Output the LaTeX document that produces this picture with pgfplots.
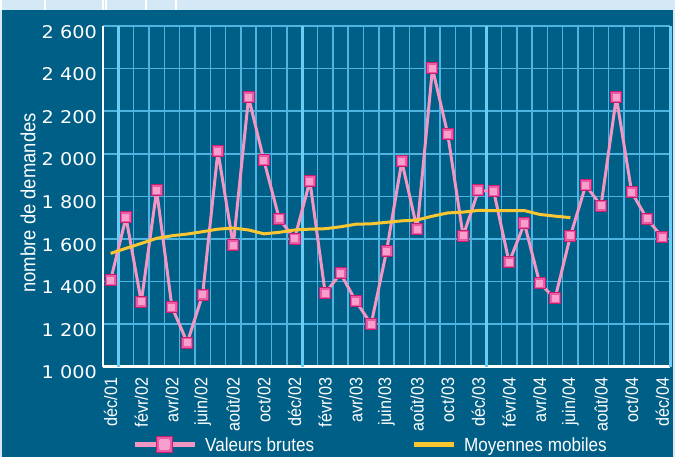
\documentclass[border=0pt]{standalone}
\usepackage{pgfplots}
\pgfplotsset{compat=1.18}
\usepackage{fontspec}
\setmainfont{Liberation Sans}
\newfontfamily\tickfont{DejaVu Sans}[FakeStretch=1.1]
\newfontfamily\condfont{Liberation Sans}[FakeStretch=0.9]
\definecolor{bgdark}{RGB}{0,95,135}
\definecolor{gridthin}{RGB}{80,180,225}
\definecolor{gridthick}{RGB}{105,205,245}
\definecolor{toplight}{RGB}{212,232,246}
\definecolor{pinkline}{RGB}{242,150,195}
\definecolor{markfill}{RGB}{236,90,165}
\definecolor{markdraw}{RGB}{200,30,110}
\definecolor{markinner}{RGB}{247,160,205}
\definecolor{yell}{RGB}{250,198,50}
\pgfplotstableread{
x y
1 1407
2 1701
3 1304
4 1828
5 1280
6 1113
7 1338
8 2011
9 1570
10 2265
11 1969
12 1695
13 1600
14 1872
15 1345
16 1438
17 1308
18 1200
19 1542
20 1964
21 1646
22 2401
23 2091
24 1614
25 1828
26 1823
27 1490
28 1673
29 1391
30 1321
31 1614
32 1852
33 1756
34 2265
35 1819
36 1695
37 1607
}\raw
\pgfplotstableread{
x y
1 1532
2 1556
3 1579
4 1603
5 1615
6 1623
7 1634
8 1646
9 1651
10 1642
11 1624
12 1631
13 1642
14 1646
15 1648
16 1657
17 1669
18 1671
19 1678
20 1685
21 1689
22 1707
23 1722
24 1726
25 1734
26 1733
27 1733
28 1733
29 1715
30 1707
31 1700
}\moy
\begin{document}
\begin{tikzpicture}[x=1pt,y=1pt]
\path[use as bounding box] (0,0) rectangle (675,457);
\fill[bgdark] (0,0) rectangle (675,457);
\fill[toplight] (0,447) rectangle (675,457);
\fill[toplight] (0,0) rectangle (2,457);
\fill[toplight] (673,0) rectangle (675,457);
\foreach \sx in {1,45,103,106,146,176} {\draw[white, line width=1.5pt] (\sx,447) -- (\sx,457);}
\begin{axis}[
  at={(103pt,90.3pt)}, anchor=south west, scale only axis,
  width=567pt, height=340.7pt,
  xmin=0.5, xmax=37.5, ymin=1000, ymax=2600,
  axis x line*=bottom, axis y line*=left,
  axis line style={white, line width=2.5pt, -},
  major tick length=0pt, minor tick length=0pt,
  xtick={1,3,...,37},
  xticklabels={déc/01,févr/02,avr/02,juin/02,août/02,oct/02,déc/02,févr/03,avr/03,juin/03,août/03,oct/03,déc/03,févr/04,avr/04,juin/04,août/04,oct/04,déc/04},
  minor xtick={1.5,2.5,...,36.5},
  xminorgrids=true,
  minor grid style={gridthin, line width=1.5pt},
  ytick={1000,1200,...,2600},
  yticklabels={1 000,1 200,1 400,1 600,1 800,2 000,2 200,2 400,2 600},
  ymajorgrids=true,
  major grid style={gridthin, line width=1.5pt},
  extra x ticks={1.5,13.5,25.5,37.5},
  extra x tick labels={},
  extra x tick style={grid=major, major grid style={gridthick, line width=3pt}},
  xticklabel style={yshift=-11pt, rotate=90, anchor=east, inner sep=0pt, text=white, font=\condfont\fontsize{18}{20}\selectfont},
  yticklabel style={anchor=north east, inner sep=0pt, xshift=-6pt, yshift=1pt, text=white, font=\tickfont\fontsize{17.5}{20}\selectfont},
  ylabel={nombre de demandes},
  ylabel style={at={(axis description cs:-0.132,0.481)}, anchor=center, text=white, font=\condfont\fontsize{20.5}{22}\selectfont},
  legend style={at={(axis description cs:0.0511,-0.2298)}, anchor=west, draw=none, fill=none, inner sep=0pt,
    font=\condfont\fontsize{19}{22}\selectfont, text=white,
    /tikz/every odd column/.append style={column sep=6pt},
    /tikz/every even column/.append style={column sep=95pt}},
  legend columns=2, legend cell align=left,
]
\addplot[pinkline, line width=3pt, line join=round, mark=square*, mark size=5.5pt,
  mark options={fill=markfill, draw=markdraw, line width=1pt},
  legend image code/.code={
    \draw[pinkline, line width=5pt] (0pt,0pt) -- (60pt,0pt);
    \fill[markfill, draw=markdraw, line width=1pt] (22pt,-8pt) rectangle (38pt,8pt);
    \fill[markinner] (26pt,-4pt) rectangle (34pt,4pt);
  }] table[x=x,y=y] {\raw};
\addlegendentry{Valeurs brutes}
\addplot[only marks, forget plot, mark=square*, mark size=3pt,
  mark options={fill=markinner, draw=markinner, line width=0pt}] table[x=x,y=y] {\raw};
\addplot[yell, line width=3pt, line join=round, mark=none,
  legend image code/.code={
    \draw[yell, line width=5pt] (0pt,0pt) -- (40pt,0pt);
  }] table[x=x,y=y] {\moy};
\addlegendentry{Moyennes mobiles}
\end{axis}
\end{tikzpicture}
\end{document}
